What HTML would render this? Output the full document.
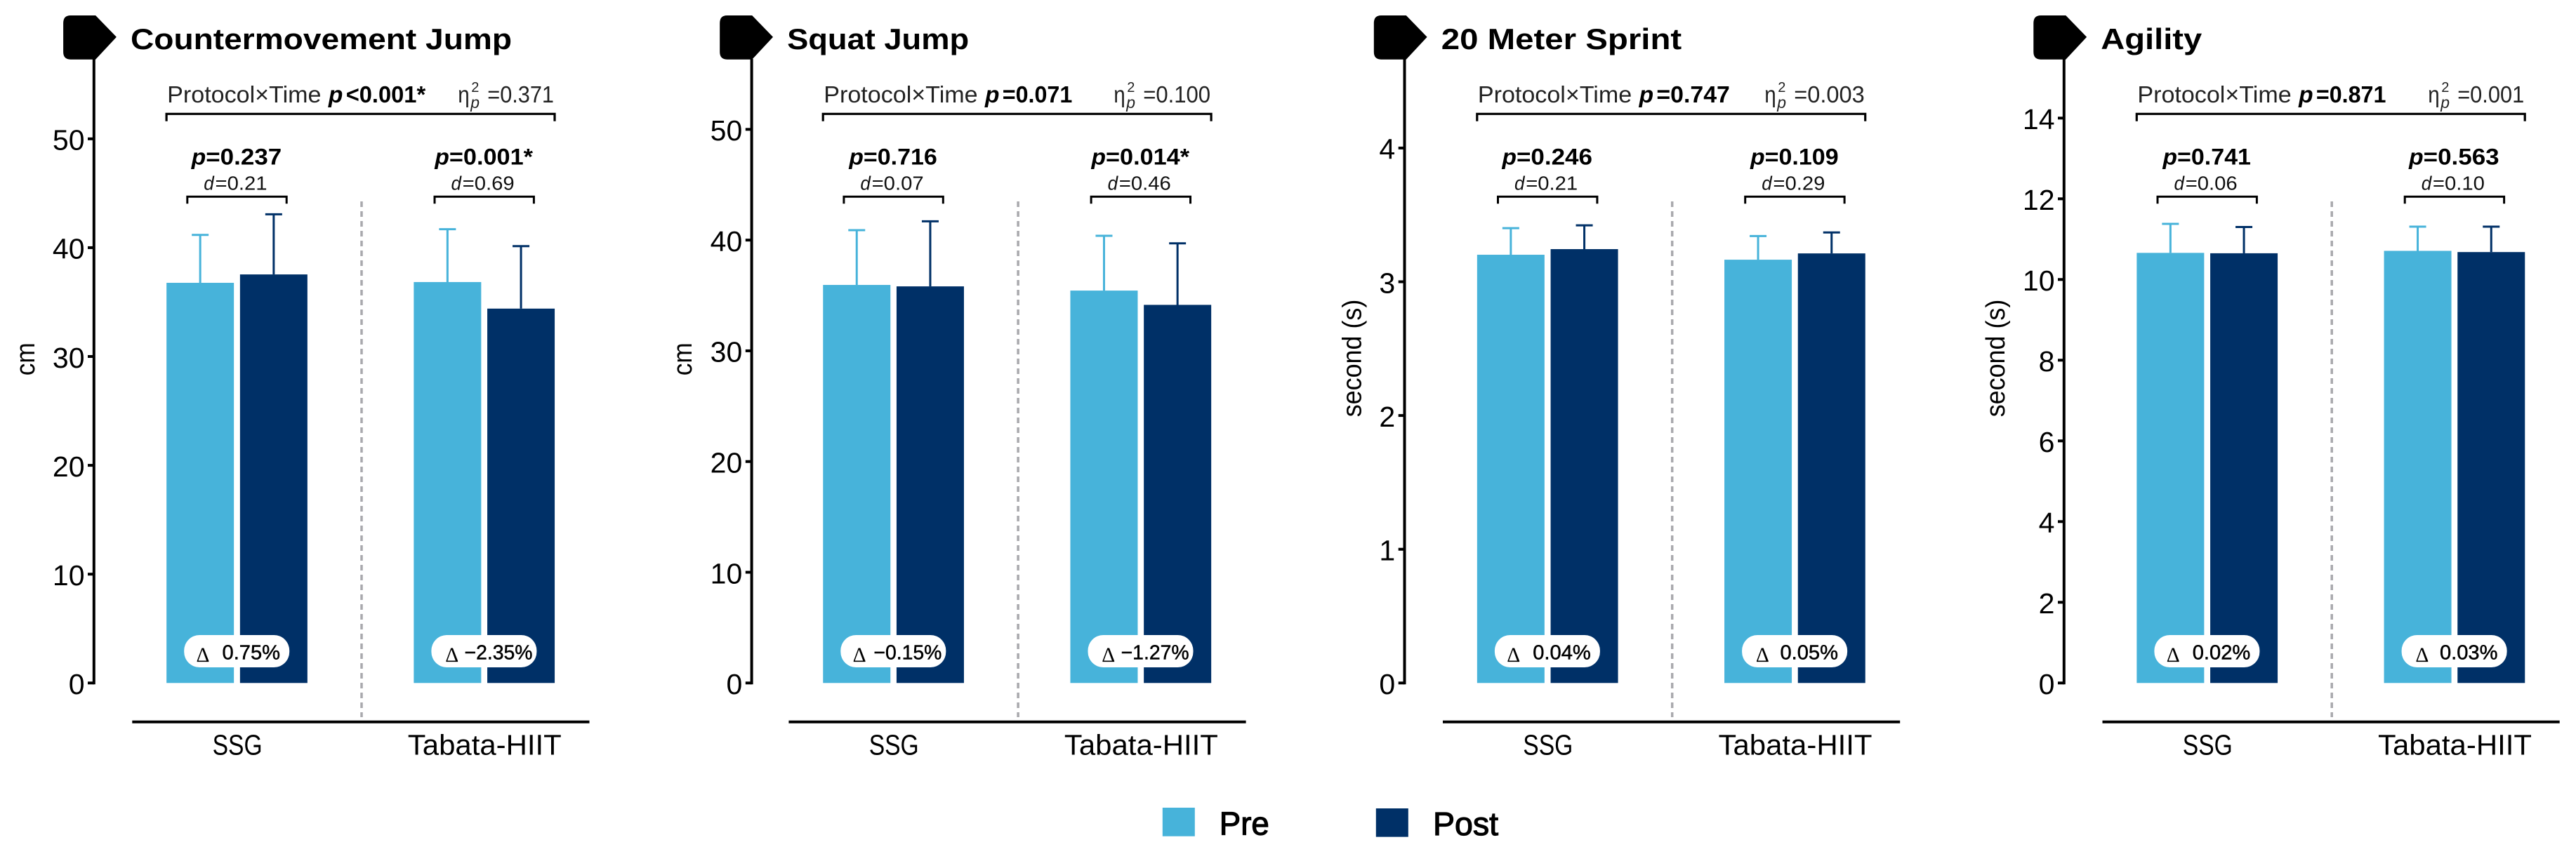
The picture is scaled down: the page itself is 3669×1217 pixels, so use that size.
<!DOCTYPE html>
<html lang="en">
<head>
<meta charset="utf-8">
<title>Pre and post performance by protocol</title>
<style>
html,body{margin:0;padding:0;background:#fff;width:3669px;height:1217px;overflow:hidden}
svg{display:block}
text{font-family:"Liberation Sans",sans-serif;fill:#000}
.title{font-size:42px;font-weight:700}
.tick{font-size:41px;text-anchor:end}
.ylab{font-size:38px}
.cat{font-size:41px;text-anchor:middle}
.light{font-size:33px;fill:#222}
.strong{font-size:33px;font-weight:700}
.strongi{font-size:33px;font-weight:700;font-style:italic}
.pval{font-size:32px;font-weight:700}
.pvali{font-size:32px;font-weight:700;font-style:italic}
.dval{font-size:28px;fill:#111}
.dvali{font-size:28px;font-style:italic;fill:#111}
.sup{font-size:20px;fill:#222}
.sub{font-size:23px;font-style:italic;fill:#222}
.pill{font-size:29px;text-anchor:middle;stroke:#000;stroke-width:.5}
.delta{font-size:30px;font-family:"Liberation Serif",serif}
.leg{font-size:46px;stroke:#000;stroke-width:1.2}
</style>
</head>
<body>
<svg id="figure" xmlns="http://www.w3.org/2000/svg" width="3669" height="1217" viewBox="0 0 3669 1217">
  <rect x="0" y="0" width="3669" height="1217" fill="#fff"/>
  <g id="panel-0" transform="translate(0 0)"></g>
  <g id="panel-1" transform="translate(935.1 0)"></g>
  <g id="panel-2" transform="translate(1866.7 0)"></g>
  <g id="panel-3" transform="translate(2806.2 0)"></g>
  <g>
    <rect x="1655.8" y="1151" width="46" height="40.7" fill="#47B3DA"/>
    <text class="leg" x="1736.8" y="1189.3" textLength="71" lengthAdjust="spacingAndGlyphs">Pre</text>
    <rect x="1959.8" y="1152" width="46" height="40.6" fill="#003067"/>
    <text class="leg" x="2041" y="1190" textLength="93" lengthAdjust="spacingAndGlyphs">Post</text>
  </g>
</svg>
<script>
// ---- chart data ----
const panelTitles = ["Countermovement Jump", "Squat Jump", "20 Meter Sprint", "Agility"];
const yAxisTitles = ["cm", "cm", "second (s)", "second (s)"];
const categories = ["SSG", "Tabata-HIIT"];

const yDomainMax = [57.34, 56.36, 4.666, 15.466];

const ticksCmj = [0, 10, 20, 30, 40, 50];
const ticksSquat = [0, 10, 20, 30, 40, 50];
const ticksSprint = [0, 1, 2, 3, 4];
const ticksAgility = [0, 2, 4, 6, 8, 10, 12, 14];

const preCmj = [36.77, 36.84];
const postCmj = [37.54, 34.40];
const preSdCmj = [4.40, 4.86];
const postSdCmj = [5.53, 5.74];

const preSquat = [35.95, 35.44];
const postSquat = [35.82, 34.15];
const preSdSquat = [4.95, 4.95];
const postSdSquat = [5.88, 5.56];

const preSprint = [3.202, 3.165];
const postSprint = [3.244, 3.212];
const preSdSprint = [0.199, 0.177];
const postSdSprint = [0.178, 0.157];

const preAgility = [10.66, 10.71];
const postAgility = [10.65, 10.68];
const preSdAgility = [0.72, 0.60];
const postSdAgility = [0.65, 0.63];

const interactionP = ["<0.001*", "=0.071", "=0.747", "=0.871"];
const interactionEta = ["=0.371", "=0.100", "=0.003", "=0.001"];

const groupPCmj = ["=0.237", "=0.001*"];
const groupPSquat = ["=0.716", "=0.014*"];
const groupPSprint = ["=0.246", "=0.109"];
const groupPAgility = ["=0.741", "=0.563"];

const groupDCmj = ["=0.21", "=0.69"];
const groupDSquat = ["=0.07", "=0.46"];
const groupDSprint = ["=0.21", "=0.29"];
const groupDAgility = ["=0.06", "=0.10"];

const deltaCmj = ["0.75%", "\u22122.35%"];
const deltaSquat = ["\u22120.15%", "\u22121.27%"];
const deltaSprint = ["0.04%", "0.05%"];
const deltaAgility = ["0.02%", "0.03%"];

const tickSets = [ticksCmj, ticksSquat, ticksSprint, ticksAgility];
const preSets = [preCmj, preSquat, preSprint, preAgility];
const postSets = [postCmj, postSquat, postSprint, postAgility];
const preSdSets = [preSdCmj, preSdSquat, preSdSprint, preSdAgility];
const postSdSets = [postSdCmj, postSdSquat, postSdSprint, postSdAgility];
const groupPSets = [groupPCmj, groupPSquat, groupPSprint, groupPAgility];
const groupDSets = [groupDCmj, groupDSquat, groupDSprint, groupDAgility];
const deltaSets = [deltaCmj, deltaSquat, deltaSprint, deltaAgility];

// ---- layout constants ----
const NS = "http://www.w3.org/2000/svg";
const PRE_COLOR = "#47B3DA";
const POST_COLOR = "#003067";
const Y_ZERO = 973.3;
const Y_TOP = 84;
const BAR_W = 96;
const BAR_GAP = 8.7;

function yScale(panel, v) {
  return Y_ZERO - (v / yDomainMax[panel]) * (Y_ZERO - Y_TOP);
}
function groupCenter(i) {
  return 337.5 + i * 352.2;
}
function seriesX(i, series) {
  return series === 0 ? groupCenter(i) - BAR_GAP / 2 - BAR_W : groupCenter(i) + BAR_GAP / 2;
}
function node(parent, tag, attrs) {
  const el = document.createElementNS(NS, tag);
  for (const k in attrs) el.setAttribute(k, attrs[k]);
  parent.appendChild(el);
  return el;
}
function label(parent, x, y, str, cls, width) {
  const attrs = { x: x, y: y, class: cls };
  if (width) {
    attrs.textLength = width;
    attrs.lengthAdjust = "spacingAndGlyphs";
  }
  const el = node(parent, "text", attrs);
  el.textContent = str;
  return el;
}
function valueWidth(str, base, oneCut) {
  const ones = (str.match(/1/g) || []).length;
  const star = str.indexOf("*") >= 0 ? 14 : 0;
  return base - ones * oneCut + star;
}

const axisLineX = [133.8, 135.5, 133.8, 133.6];
const titleWidths = [543, 259, 342.5, 144];
const etaWidths = [94.7, 95.9, 100.5, 95];
const yTitleLengths = [47, 47, 167.6, 167.6];
const yTitleBaselines = [49, 49.9, 71.6, 48.8];
const yTitleCenters = [511.7, 511.7, 510.5, 510.5];

for (let p = 0; p < 4; p++) {
  const g = document.getElementById("panel-" + p);
  const axisX = axisLineX[p];
  let el;

  // header flag marker
  el = node(g, "path", { d: "M100.5 22H136.1L165.9 52.7L136.1 84.7H100.5Q90.1 84.7 90.1 74V33Q90.1 22 100.5 22Z", fill: "#000" });
  
  

  el = label(g, 186, 70, panelTitles[p], "title", titleWidths[p]);
  
  

  // y axis
  el = node(g, "line", { x1: axisX, x2: axisX, y1: Y_TOP, y2: Y_ZERO + 2, stroke: "#000", "stroke-width": 4 });
  
  

  tickSets[p].forEach(function (t) {
    const ty = yScale(p, t);
    const m = node(g, "line", { x1: axisX - 8.8, x2: axisX, y1: ty, y2: ty, stroke: "#000", "stroke-width": 4 });
    
    
    const l = label(g, axisX - 13.3, ty + 15.8, String(t), "tick");
    
    
  });

  el = node(g, "text", {
    class: "ylab",
    "text-anchor": "middle",
    textLength: yTitleLengths[p],
    lengthAdjust: "spacingAndGlyphs",
    transform: "translate(" + yTitleBaselines[p] + " " + yTitleCenters[p] + ") rotate(-90)"
  });
  el.textContent = yAxisTitles[p];
  
  

  // x axis
  el = node(g, "line", { x1: 188.3, x2: 839.5, y1: 1028.7, y2: 1028.7, stroke: "#000", "stroke-width": 4 });
  
  

  el = node(g, "line", { x1: 515, x2: 515, y1: 287, y2: 1022, stroke: "#a9a9ad", "stroke-width": 3.5, "stroke-dasharray": "8 6" });
  
  

  // interaction statistics
  el = label(g, 238.2, 146, "Protocol\u00d7Time", "light", 219.3);
  
  

  el = label(g, 467.9, 146, "p", "strongi", 20.5);
  
  

  el = label(g, 492.7, 146, interactionP[p], "strong", valueWidth(interactionP[p], 104.5, 5));
  
  

  const etaW = etaWidths[p];
  el = label(g, 789 - etaW - 42, 146, "\u03b7", "light", 16.5);
  
  

  el = label(g, 789 - etaW - 23, 131, "2", "sup");
  
  

  el = label(g, 789 - etaW - 24, 154, "p", "sub");
  
  

  el = label(g, 789 - etaW, 146, interactionEta[p], "light", etaW);
  
  

  el = node(g, "path", { d: "M237.1 172.7V162.3H790V172.7", fill: "none", stroke: "#000", "stroke-width": 3.2 });
  
  

  // groups
  categories.forEach(function (cat, i) {
    const c = groupCenter(i);

    // Bars and error bars for each series
    [[preSets, preSdSets, PRE_COLOR, "pre"], [postSets, postSdSets, POST_COLOR, "post"]].forEach(function (s, k) {
      const v = s[0][p][i];
      const sd = s[1][p][i];
      const x = seriesX(i, k);
      const top = yScale(p, v);
      const errTop = yScale(p, v + sd);
      const mid = x + BAR_W / 2;

      const bar = node(g, "rect", { x: x, y: top, width: BAR_W, height: Y_ZERO - top, fill: s[2] });
      
      

      const stem = node(g, "line", { x1: mid, x2: mid, y1: top, y2: errTop, stroke: s[2], "stroke-width": 3 });
      
      

      const cap = node(g, "line", { x1: mid - 12, x2: mid + 12, y1: errTop, y2: errTop, stroke: s[2], "stroke-width": 3 });
      
      
    });

    // p value
    const pStr = groupPSets[p][i];
    const pW = valueWidth(pStr, 108, 3);
    const pLeft = c - (pW + 20.5) / 2 - 0.5;
    const ps = label(g, pLeft, 234.3, "p", "pvali", 20.5);
    
    

    const pv = label(g, pLeft + 20.5, 234.3, pStr, "pval", pW);
    
    

    // Effect size
    const ds = label(g, c - 47.2, 270.7, "d", "dvali", 14.5);
    
    

    const dv = label(g, c - 31, 270.7, groupDSets[p][i], "dval", 74);
    
    

    // Pre/post bracket
    const br = node(g, "path", { d: "M" + (c - 70.7) + " 290.3V280.3H" + (c + 70.7) + "V290.3", fill: "none", stroke: "#000", "stroke-width": 3 });
    
    

    // Delta pill
    const pill = node(g, "rect", { x: c - 75.3, y: 905, width: 150, height: 46, rx: 22, ry: 22, fill: "#fff" });
    
    

    const dl = label(g, c + (i === 0 ? -58 : -55.5), 943, "\u0394", "delta", 19);
    
    

    const dStr = deltaSets[p][i];
    const negative = dStr.charAt(0) === "\u2212";
    const dt = node(g, "text", {
      x: c + 20.3,
      y: 939.3,
      class: "pill",
      textLength: negative ? 97 : 82.5,
      lengthAdjust: "spacingAndGlyphs"
    });
    dt.textContent = dStr;
    
    

    // Category label
    const cl = node(g, "text", {
      x: c + 0.6,
      y: 1075.7,
      class: "cat",
      textLength: i === 0 ? 71 : 219,
      lengthAdjust: "spacingAndGlyphs"
    });
    cl.textContent = cat;
    
    
  });
}
</script>
</body>
</html>
